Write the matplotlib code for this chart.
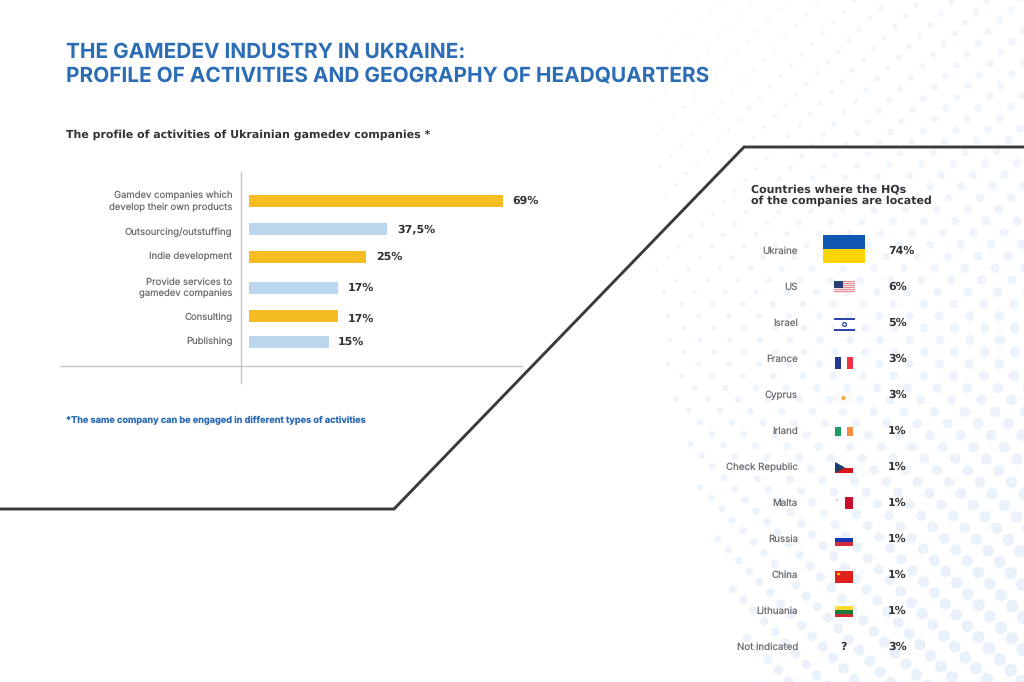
import numpy as np
import matplotlib
matplotlib.use("Agg")
import matplotlib.pyplot as plt
from matplotlib.patches import Rectangle, Polygon, Circle

plt.rcParams["text.hinting"] = "no_hinting"
plt.rcParams["text.hinting_factor"] = 1

# ---- data ----
title_lines = ["THE GAMEDEV INDUSTRY IN UKRAINE:", "PROFILE OF ACTIVITIES AND GEOGRAPHY OF HEADQUARTERS"]
left_heading = "The profile of activities of Ukrainian gamedev companies *"
right_heading = ["Countries where the HQs", "of the companies are located"]
footnote = "*The same company can be engaged in different types of activities"

activities = ["Gamdev companies which\ndevelop their own products", "Outsourcing/outstuffing",
              "Indie development", "Provide services to\ngamedev companies", "Consulting", "Publishing"]
activity_labels = ["69%", "37,5%", "25%", "17%", "17%", "15%"]
# drawn bar lengths (the source art is not proportional to its labels)
activity_lengths = [69, 37.6, 31.8, 24.3, 24.3, 21.6]

countries = ["Ukraine", "US", "Israel", "France", "Cyprus", "Irland", "Check Republic",
             "Malta", "Russia", "China", "Lithuania", "Not indicated"]
country_labels = ["74%", "6%", "5%", "3%", "3%", "1%", "1%", "1%", "1%", "1%", "1%", "3%"]

# ---- layout ----
W, H = 1024, 682
bar_rows = [201, 229.5, 257.5, 288, 316.5, 342]
label_rows = [199.5, 231, 255.5, 285.5, 316, 340.5]
value_rows = [201, 229.5, 257, 287.5, 318.5, 342]
bar_colors = ["#F6BD22", "#BCD6EE"]
BLUE = "#2C6DB5"; DARK = "#333336"; GREY = "#6A6C70"; RULE = "#C4C6C9"
SANS = ["Inter", "DejaVu Sans"]

fig = plt.figure(figsize=(W / 100, H / 100), dpi=100, facecolor="white")
bg = fig.add_axes([0, 0, 1, 1])
bg.set_xlim(0, W); bg.set_ylim(H, 0); bg.axis("off")

# ---- decorative dot texture, top and lower right ----
cx, cy = 480, 340
top_col, low_col = np.array([0xF6, 0xF9, 0xFC]) / 255, np.array([0xE9, 0xF1, 0xFA]) / 255
for i, r in enumerate(np.arange(190, 800, 15.0)):
    step = 24.0 / r
    for k in range(-int(2.2 / step), int(2.2 / step)):
        a = (k + 0.5 * (i % 2)) * step
        x, y = cx + r * np.cos(a), cy + r * np.sin(a)
        if not (0 <= x <= W + 10 and -10 <= y <= H + 10):
            continue
        limit = 655 if y < 350 else 655 + (y - 350) * 0.3
        if x < limit:
            continue
        rad = 0.9 + (x - 655) * 0.008 + max(y, 0) * 0.0042
        t = np.clip(y / 560 * 0.7 + (x - 655) / 370 * 0.3, 0, 1)
        bg.add_patch(Circle((x, y), min(rad, 7.5), fc=top_col * (1 - t) + low_col * t, ec="none", zorder=0))

# ---- angled divider ----
bg.plot([0, 394, 744, 1024], [509, 509, 147, 147], color="#3A3A3C", lw=2.1,
        solid_joinstyle="miter", zorder=1)

# ---- titles ----
for y, t in zip([52, 76], title_lines):
    bg.text(66, y, t, color=BLUE, fontsize=15.0, fontweight="bold", family=SANS, va="center", ha="left")
bg.text(66, 135, left_heading, color=DARK, fontsize=7.7, fontweight="bold", family="DejaVu Sans", va="center")
for y, t in zip([189, 201], right_heading):
    bg.text(751, y, t, color=DARK, fontsize=7.7, fontweight="bold", family="DejaVu Sans", va="center")
bg.text(66, 420, footnote, color=BLUE, fontsize=6.6, fontweight="bold", family=SANS, va="center")

# ---- left chart ----
bg.plot([60, 522], [366, 366], color=RULE, lw=1, zorder=1)
bg.plot([240.5, 240.5], [172, 383], color=RULE, lw=1, zorder=1)
ax = fig.add_axes([249 / W, 1 - 383 / H, 254 / W, (383 - 172) / H])
ax.patch.set_alpha(0)
ax.set_xlim(0, 69); ax.set_ylim(383, 172)
for s in ax.spines.values():
    s.set_visible(False)
ax.tick_params(length=0)
ax.set_xticks([])
colors = [bar_colors[i % 2] for i in range(len(activities))]
ax.barh(bar_rows, activity_lengths, height=12, color=colors)
ax.set_yticks(label_rows, activities, fontsize=6.85, color=GREY, family=SANS, linespacing=1.28)
ax.tick_params(axis="y", pad=12)
for row, ln, lab in zip(value_rows, activity_lengths, activity_labels):
    ax.annotate(lab, (ln, row), xytext=(7, 0), textcoords="offset points", fontsize=7.6,
                fontweight="bold", color=DARK, family="DejaVu Sans", va="center")

# ---- right table ----
rows = [250 + 36 * i for i in range(len(countries))]
for y, c, v in zip(rows, countries, country_labels):
    bg.text(798, y + 0.8, c, color=GREY, fontsize=7.0, family=SANS, ha="right", va="center")
    bg.text(888, y + 0.8, v, color=DARK, fontsize=7.6, fontweight="bold", family="DejaVu Sans", ha="left", va="center")

def band(x0, x1, y0, y1, col):
    bg.add_patch(Rectangle((x0, y0), x1 - x0, y1 - y0, fc=col, ec="none", zorder=2))

# Ukraine
band(823, 865, 235, 249, "#0F57B0"); band(823, 865, 249, 263, "#FFD500")
# US
band(834, 855, 281, 293, "#E48F96")
for j in range(6):
    band(834, 855, 281 + j * 2 + 1.2, 281 + j * 2 + 2, "#F8E6E7")
band(834, 843, 281, 288, "#2B3F73")
# Israel
band(834, 855, 318, 331, "#FFFFFF")
band(834, 855, 318, 320, "#2A46A8"); band(834, 855, 329, 331, "#2A46A8")
bg.add_patch(Circle((844.5, 324.5), 1.9, fc="none", ec="#2A46A8", lw=.9, zorder=3))
# France
band(835, 853, 357, 369, "#FFFFFF")
band(835, 841, 357, 369, "#1F3A93"); band(847, 853, 357, 369, "#EF3340")
# Cyprus
band(835, 853, 392, 404, "#FBFAF6")
bg.add_patch(Circle((843.5, 398), 2, fc="#F2A93B", ec="none", zorder=3))
# Ireland
band(835, 853, 427, 436, "#FFFFFF")
band(835, 841, 427, 436, "#1F9A62"); band(847, 853, 427, 436, "#FA8C42")
# Czech
band(835, 853, 462, 467.5, "#FFFFFF"); band(835, 853, 467.5, 473, "#D7141A")
bg.add_patch(Polygon([(835, 462), (845, 467.5), (835, 473)], fc="#1C3F6E", ec="none", zorder=3))
# Malta
band(835, 853, 497, 509, "#FFFFFF")
band(844.5, 853, 497, 509, "#C8102E")
bg.add_patch(Circle((837, 500), .8, fc="#D98A8A", ec="none", zorder=3))
# Russia
band(835, 853, 538, 542, "#1736B0"); band(835, 853, 542, 546, "#D52B3A")
# China
band(835, 853, 571, 583, "#E0201B")
bg.add_patch(Circle((838.5, 574), 1.4, fc="#FFD500", ec="none", zorder=3))
# Lithuania
band(835, 853, 606, 610, "#FDDC2E"); band(835, 853, 610, 613.5, "#1F7A3D"); band(835, 853, 613.5, 617, "#D6262E")
bg.text(843, 646.8, "?", color=DARK, fontsize=7.6, fontweight="bold", family="DejaVu Sans", ha="center", va="center")

fig.savefig("out.png", dpi=100, facecolor="white")
